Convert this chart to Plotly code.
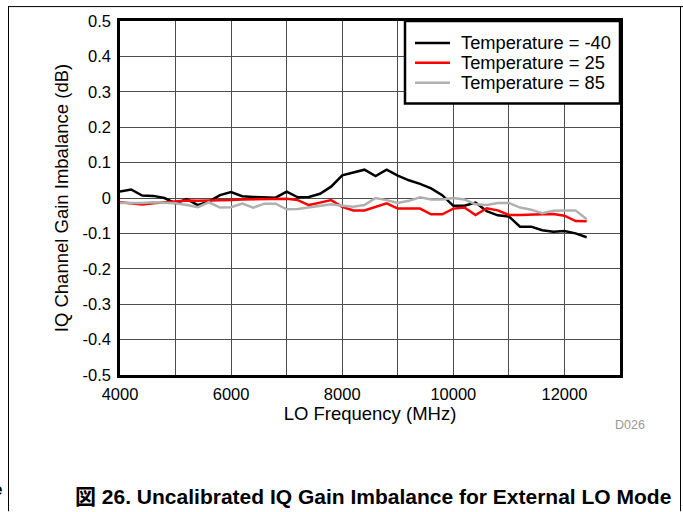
import plotly.graph_objects as go

freq = [4000 + 200 * i for i in range(43)]

temp_m40 = [0.018, 0.024, 0.007, 0.006, 0.0, -0.015, -0.003, -0.02, -0.01, 0.008,
            0.017, 0.005, 0.003, 0.002, 0.001, 0.018, 0.002, 0.003, 0.012, 0.032,
            0.064, 0.072, 0.08, 0.062, 0.08, 0.063, 0.05, 0.04, 0.027, 0.008,
            -0.022, -0.022, -0.013, -0.037, -0.049, -0.052, -0.081, -0.081, -0.091, -0.095,
            -0.093, -0.1, -0.111]

temp_25 = [-0.012, -0.016, -0.018, -0.015, -0.012, -0.01, -0.007, -0.008, -0.008, -0.008,
           -0.006, -0.004, -0.003, -0.002, -0.001, -0.002, -0.006, -0.02, -0.013, -0.006,
           -0.025, -0.035, -0.035, -0.025, -0.015, -0.03, -0.03, -0.03, -0.046, -0.046,
           -0.03, -0.027, -0.048, -0.029, -0.035, -0.048, -0.048, -0.048, -0.046, -0.045,
           -0.05, -0.065, -0.066]

temp_85 = [-0.014, -0.015, -0.014, -0.012, -0.013, -0.015, -0.02, -0.026, -0.012, -0.027,
           -0.026, -0.016, -0.027, -0.016, -0.016, -0.032, -0.031, -0.027, -0.022, -0.018,
           -0.022, -0.025, -0.02, 0.0, -0.006, -0.014, -0.008, 0.002, -0.004, -0.004,
           0.0, -0.004, -0.018, -0.02, -0.014, -0.014, -0.027, -0.033, -0.043, -0.036,
           -0.035, -0.035, -0.06]

series_names = ["Temperature = -40", "Temperature = 25", "Temperature = 85"]
series_colors = ["#000000", "#ff0000", "#b0b0b0"]

x_gridvals = list(range(4000, 13001, 1000))
x_ticklabels = {4000: "4000", 6000: "6000", 8000: "8000", 10000: "10000", 12000: "12000"}
y_tickvals = [0.5, 0.4, 0.3, 0.2, 0.1, 0, -0.1, -0.2, -0.3, -0.4, -0.5]
y_ticktext = ["0.5", "0.4", "0.3", "0.2", "0.1", "0", "-0.1", "-0.2", "-0.3", "-0.4", "-0.5"]

FONT = "Arial, 'Liberation Sans', 'Noto Sans CJK JP', sans-serif"

fig = go.Figure()
for name, ys, col in zip(series_names, [temp_m40, temp_25, temp_85], series_colors):
    fig.add_trace(go.Scatter(x=freq, y=ys, mode="lines", name=name,
                             line=dict(color=col, width=2.5), showlegend=False))

W, H = 683, 512
L, R, T, B = 120, 63, 19, 137
pw, ph = W - L - R, H - T - B


def px(x):
    return (x - L) / pw


def py(y):
    return (H - B - y) / ph


fig.update_layout(
    width=W, height=H,
    margin=dict(l=L, r=R, t=T, b=B, pad=0),
    paper_bgcolor="white", plot_bgcolor="white",
    font=dict(family=FONT, size=16, color="black"),
    showlegend=False,
    xaxis=dict(range=[4000, 13000], tickmode="array", tickvals=x_gridvals,
               ticktext=[x_ticklabels.get(v, "") for v in x_gridvals],
               showgrid=True, gridcolor="#4d4d4d", gridwidth=1,
               showline=True, linecolor="black", linewidth=2.5, mirror=True,
               ticks="", zeroline=False, tickfont=dict(size=16.5),
               title=dict(text="LO Frequency (MHz)", font=dict(size=18.5), standoff=6),
               ticklabelstandoff=2),
    yaxis=dict(range=[-0.5, 0.5], tickmode="array", tickvals=y_tickvals, ticktext=y_ticktext,
               showgrid=True, gridcolor="#4d4d4d", gridwidth=1,
               showline=True, linecolor="black", linewidth=2.5, mirror=True,
               ticks="", zeroline=False, tickfont=dict(size=16.5),
               title=dict(text="IQ Channel Gain Imbalance (dB)", font=dict(size=18.5), standoff=10),
               ticklabelstandoff=3),
)

shapes = [
    # page frame lines
    dict(type="line", xref="paper", yref="paper", x0=px(8), x1=px(683), y0=py(4.5), y1=py(4.5),
         line=dict(color="black", width=1)),
    dict(type="line", xref="paper", yref="paper", x0=px(8.5), x1=px(8.5), y0=py(4), y1=py(512),
         line=dict(color="black", width=1)),
    dict(type="line", xref="paper", yref="paper", x0=px(680.5), x1=px(680.5), y0=py(4), y1=py(512),
         line=dict(color="black", width=1)),
    # legend box
    dict(type="rect", xref="paper", yref="paper", x0=px(405), x1=1.0, y0=py(102), y1=1.0,
         fillcolor="white", line=dict(color="black", width=2.5), layer="above"),
]
for i, (name, col) in enumerate(zip(series_names, series_colors)):
    yy = 41 + 20 * i
    shapes.append(dict(type="line", xref="paper", yref="paper", x0=px(415), x1=px(450),
                       y0=py(yy), y1=py(yy), line=dict(color=col, width=2.5), layer="above"))
    fig.add_annotation(text=name, xref="paper", yref="paper", x=px(459), y=py(yy),
                       xanchor="left", yanchor="middle", showarrow=False,
                       font=dict(size=18.3, color="black"))
fig.update_layout(shapes=shapes)

fig.add_annotation(text="D026", xref="paper", yref="paper", x=px(630), y=py(425),
                   xanchor="center", yanchor="middle", showarrow=False,
                   font=dict(size=12.5, color="#999999"))
fig.add_annotation(text="<b>図 26. Uncalibrated IQ Gain Imbalance for External LO Mode</b>",
                   xref="paper", yref="paper", x=px(73), y=py(497),
                   xanchor="left", yanchor="middle", showarrow=False,
                   font=dict(size=21, color="black"))
fig.add_annotation(text="<b>e</b>", xref="paper", yref="paper", x=px(4), y=py(490),
                   xanchor="right", yanchor="middle", showarrow=False,
                   font=dict(size=17, color="black"))

fig.write_html("out.html", config={"displayModeBar": False},
               post_script="document.body.style.margin='0';document.body.style.padding='0';")
